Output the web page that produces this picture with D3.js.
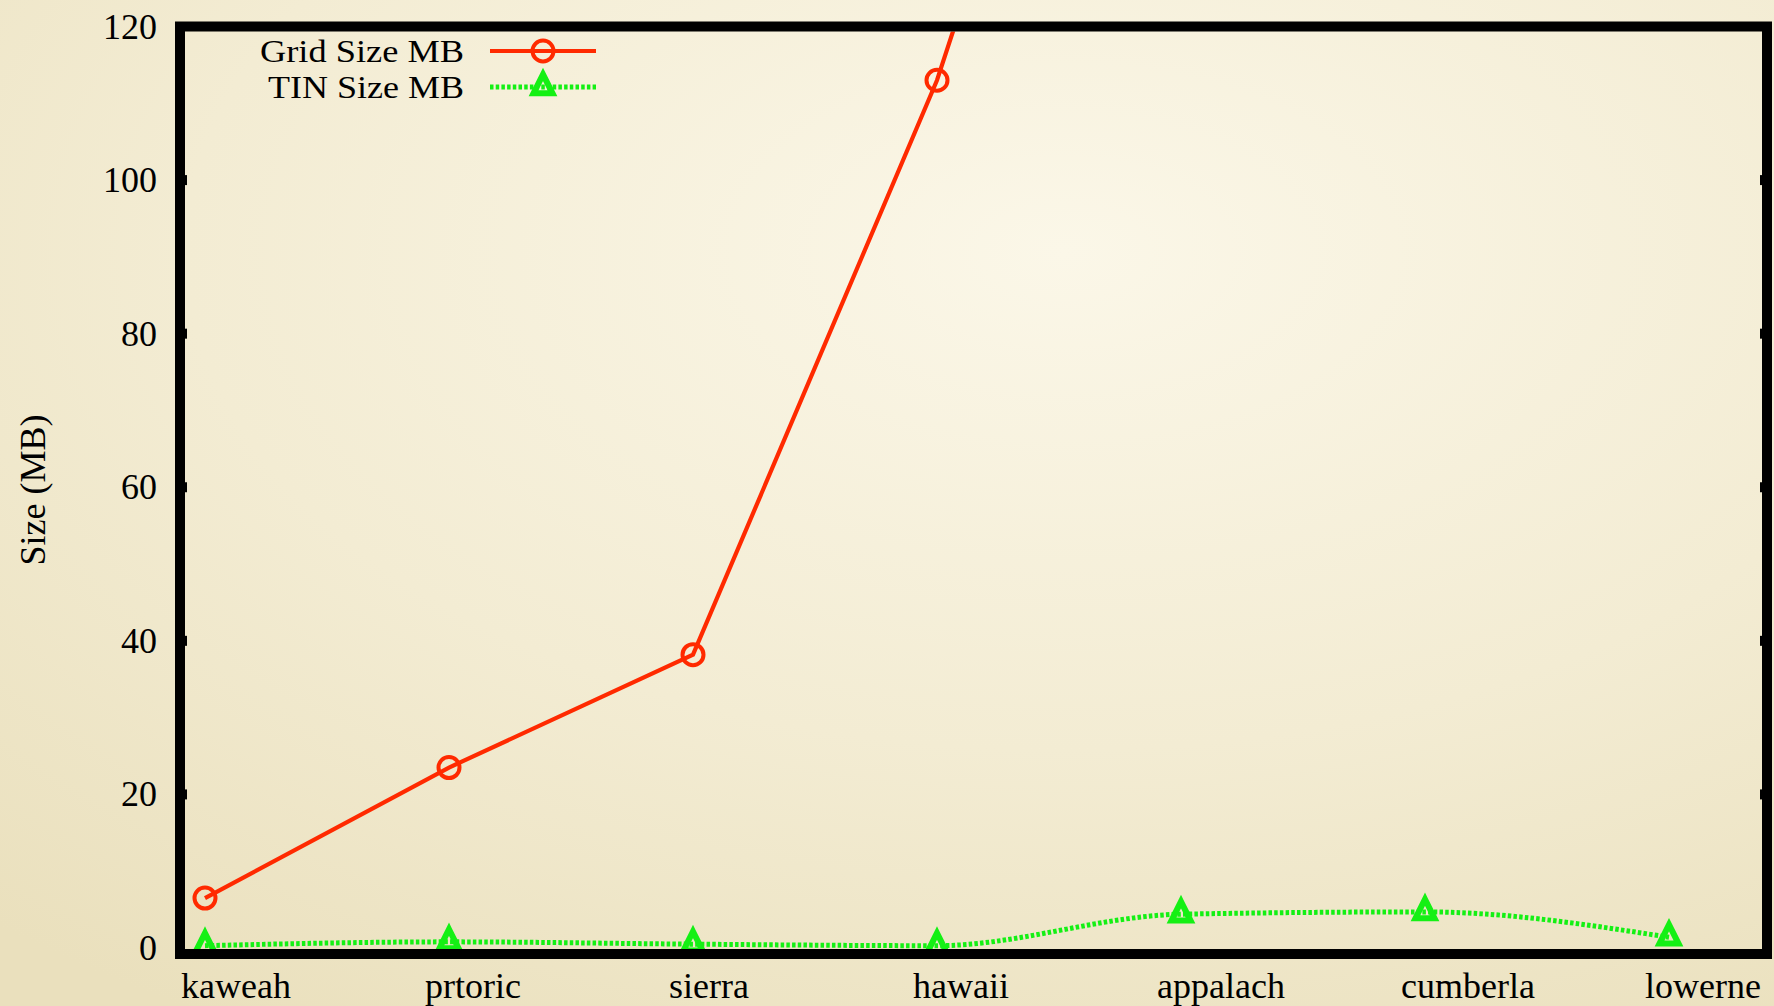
<!DOCTYPE html>
<html lang="en">
    <head>
        <meta charset="utf-8">
        <title>Grid vs TIN size</title>
        <script src="https://d3js.org/d3.v7.min.js"></script>
        <style type="text/css">
            body { margin: 0; padding: 0; overflow: hidden; }
            text { font-family: "Liberation Serif", "Times New Roman", serif; fill: #000; }
        </style>
    </head>
    <body>
        <script>
            // data
            var categories = ["kaweah", "prtoric", "sierra", "hawaii", "appalach", "cumberla", "lowerne"];
            // last values are above the 120 MB top of the plot, so only the rising line shows
            var gridSize = [6.5, 23.5, 38.2, 113, 210, 225, 190];
            var tinSize = [0.3, 0.8, 0.5, 0.3, 4.4, 4.7, 1.4];
            var yTicks = [0, 20, 40, 60, 80, 100, 120];
            var seriesNames = ["Grid Size MB", "TIN Size MB"];
            var legendWidths = [204, 196];

            // configuration code
            var outerWidth = 1774;
            var outerHeight = 1006;

            var frame = { left: 180, top: 26.5, right: 1767, bottom: 954 };
            var borderWidth = 10;

            var red = "#ff2a00";
            var green = "#14f014";
            var dotted = "3.5,2.2";

            var svg = d3.select("body")
                        .append("svg")
                        .attr("width", outerWidth)
                        .attr("height", outerHeight);

            // parchment background
            var defs = svg.append("defs");
            var bg = defs.append("radialGradient")
                .attr("id", "paper")
                .attr("cx", "60%").attr("cy", "25%").attr("r", "90%");
            bg.append("stop").attr("offset", "0%").attr("stop-color", "#fbf7e8");
            bg.append("stop").attr("offset", "55%").attr("stop-color", "#f3ecd3");
            bg.append("stop").attr("offset", "100%").attr("stop-color", "#eae0bd");

            svg.append("rect")
                .attr("width", outerWidth)
                .attr("height", outerHeight)
                .attr("fill", "url(#paper)");

            defs.append("clipPath").attr("id", "plotClip")
                .append("rect")
                .attr("x", 0)
                .attr("y", frame.top + 5)
                .attr("width", outerWidth)
                .attr("height", outerHeight);

            var xScale = d3.scalePoint().domain(categories).range([205, 1669]);
            var yScale = d3.scaleLinear().domain([0, 120]).range([948, frame.top]);

            // y tick labels
            svg.selectAll(".ytick")
                .data(yTicks)
                .enter()
                .append("text")
                .attr("class", "ytick")
                .attr("x", 157)
                .attr("y", function (d) { return yScale(d) + 12; })
                .attr("text-anchor", "end")
                .style("font-size", "36px")
                .text(function (d) { return d; });

            // x labels (gnuplot puts them a bit left of the point)
            svg.selectAll(".xtick")
                .data(categories)
                .enter()
                .append("text")
                .attr("class", "xtick")
                .attr("x", function (d) { return xScale(d) - 24; })
                .attr("y", 998)
                .style("font-size", "36px")
                .text(function (d) { return d; });

            // y axis title
            svg.append("text")
                .attr("transform", "translate(45,490) rotate(-90)")
                .attr("text-anchor", "middle")
                .style("font-size", "36px")
                .text("Size (MB)");

            // lines
            var gridLine = d3.line()
                .x(function (d, i) { return xScale(categories[i]); })
                .y(function (d) { return yScale(d); });

            var tinLine = d3.line()
                .x(function (d, i) { return xScale(categories[i]); })
                .y(function (d) { return yScale(d); })
                .curve(d3.curveMonotoneX);

            var lines = svg.append("g").attr("clip-path", "url(#plotClip)");

            lines.append("path")
                .attr("d", gridLine(gridSize))
                .attr("fill", "none")
                .attr("stroke", red)
                .attr("stroke-width", 4.2);

            lines.append("path")
                .attr("d", tinLine(tinSize))
                .attr("fill", "none")
                .attr("stroke", green)
                .attr("stroke-width", 5)
                .attr("stroke-dasharray", dotted);

            function triangle(cx, cy, s) {
                return "M" + cx + "," + (cy - 1.33 * s) +
                    "L" + (cx + s) + "," + (cy + 0.67 * s) +
                    "L" + (cx - s) + "," + (cy + 0.67 * s) + "Z";
            }

            // markers
            svg.selectAll(".gridPt")
                .data(gridSize.filter(function (d) { return d <= 120; }))
                .enter()
                .append("circle")
                .attr("class", "gridPt")
                .attr("cx", function (d, i) { return xScale(categories[i]); })
                .attr("cy", function (d) { return yScale(d); })
                .attr("r", 10.5)
                .attr("fill", "none")
                .attr("stroke", red)
                .attr("stroke-width", 4);

            svg.selectAll(".tinPt")
                .data(tinSize)
                .enter()
                .append("path")
                .attr("class", "tinPt")
                .attr("d", function (d, i) { return triangle(xScale(categories[i]), yScale(d), 9.5); })
                .attr("fill", "none")
                .attr("stroke", green)
                .attr("stroke-width", 6);

            // border with small tick nubs
            svg.append("rect")
                .attr("x", frame.left)
                .attr("y", frame.top)
                .attr("width", frame.right - frame.left)
                .attr("height", frame.bottom - frame.top)
                .attr("fill", "none")
                .attr("stroke", "#000")
                .attr("stroke-width", borderWidth);

            var nubs = svg.append("g");
            yTicks.slice(1, -1).forEach(function (t) {
                nubs.append("line")
                    .attr("x1", frame.left).attr("x2", frame.left + 7)
                    .attr("y1", yScale(t)).attr("y2", yScale(t))
                    .attr("stroke", "#000").attr("stroke-width", 10);
                nubs.append("line")
                    .attr("x1", frame.right).attr("x2", frame.right - 7)
                    .attr("y1", yScale(t)).attr("y2", yScale(t))
                    .attr("stroke", "#000").attr("stroke-width", 10);
            });

            // legend
            var legend = svg.selectAll(".legend")
                .data(seriesNames)
                .enter()
                .append("g")
                .attr("class", "legend")
                .attr("transform", function (d, i) { return "translate(0," + (51 + i * 36) + ")"; });

            legend.append("text")
                .attr("x", 464)
                .attr("y", 11)
                .attr("text-anchor", "end")
                .attr("textLength", function (d, i) { return legendWidths[i]; })
                .attr("lengthAdjust", "spacingAndGlyphs")
                .style("font-size", "32px")
                .text(function (d) { return d; });

            legend.append("line")
                .attr("x1", 490)
                .attr("x2", 596)
                .attr("stroke", function (d, i) { return i === 0 ? red : green; })
                .attr("stroke-width", function (d, i) { return i === 0 ? 4.2 : 5; })
                .attr("stroke-dasharray", function (d, i) { return i === 0 ? null : dotted; });

            legend.filter(function (d, i) { return i === 0; })
                .append("circle")
                .attr("cx", 543)
                .attr("r", 10.5)
                .attr("fill", "none")
                .attr("stroke", red)
                .attr("stroke-width", 4);

            legend.filter(function (d, i) { return i === 1; })
                .append("path")
                .attr("d", triangle(543, 0, 9.5))
                .attr("fill", "none")
                .attr("stroke", green)
                .attr("stroke-width", 6);
        </script>
    </body>
</html>
